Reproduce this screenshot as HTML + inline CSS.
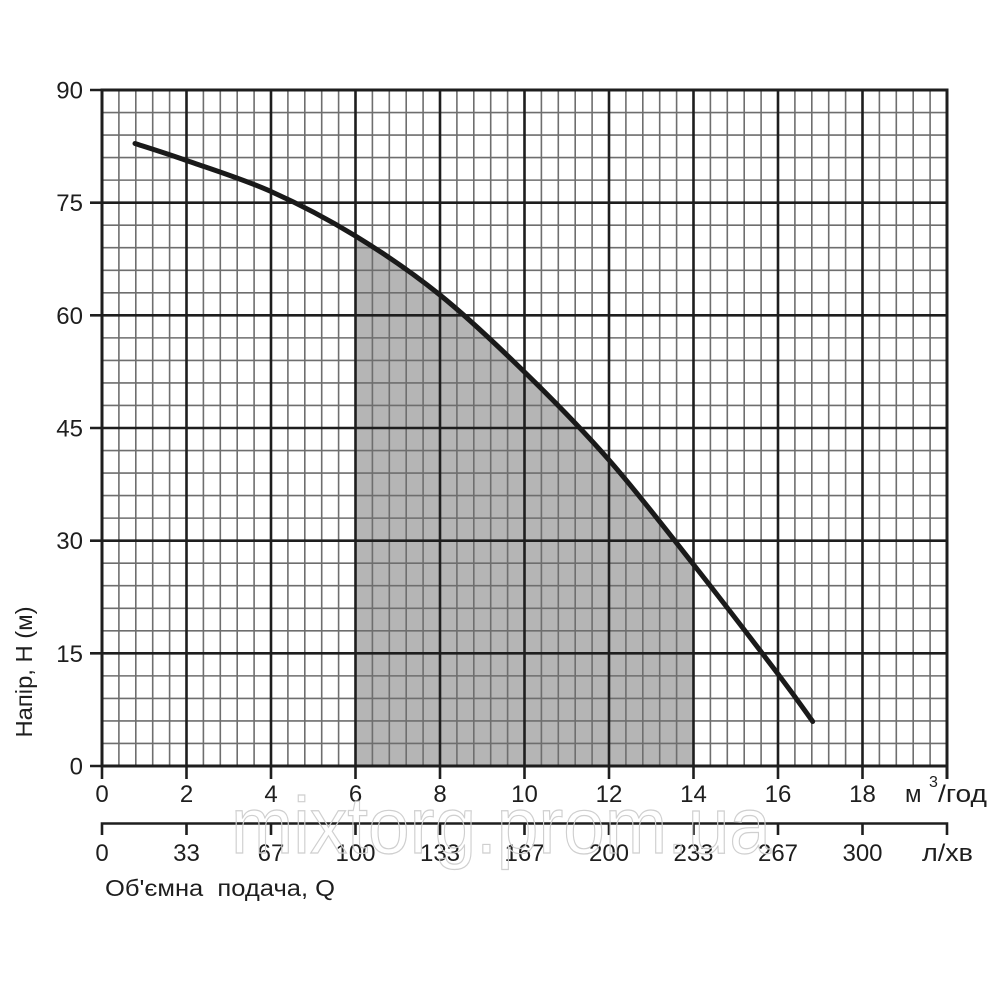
<!DOCTYPE html>
<html>
<head>
<meta charset="utf-8">
<style>
  html,body{margin:0;padding:0;background:#fff;}
  svg{display:block;}
  text{font-family:"Liberation Sans","DejaVu Sans",sans-serif;fill:#1e1e1e;}
</style>
</head>
<body>
<svg width="1000" height="1000" viewBox="0 0 1000 1000" xmlns="http://www.w3.org/2000/svg">
  <rect x="0" y="0" width="1000" height="1000" fill="#fff"/>

  <!-- shaded operating region -->
  <path d="M356,766 L356,236.3 C383.7,253.25 411.8,272.3 440,295 C468.2,317.7 496.3,344.5 524.5,372 C552.7,399.5 580.8,427.9 609,460 C637.2,492.1 665.3,528.8 693.5,564.5 L693.5,766 Z" fill="#b5b5b5"/>

  <!-- minor grid -->
  <path fill="none" stroke="#6e6e6e" stroke-width="1.6" d="
  M118.9,90V766 M135.8,90V766 M152.7,90V766 M169.6,90V766
  M203.4,90V766 M220.3,90V766 M237.2,90V766 M254.1,90V766
  M287.9,90V766 M304.8,90V766 M321.7,90V766 M338.6,90V766
  M372.4,90V766 M389.3,90V766 M406.2,90V766 M423.1,90V766
  M456.9,90V766 M473.8,90V766 M490.7,90V766 M507.6,90V766
  M541.4,90V766 M558.3,90V766 M575.2,90V766 M592.1,90V766
  M625.9,90V766 M642.8,90V766 M659.7,90V766 M676.6,90V766
  M710.4,90V766 M727.3,90V766 M744.2,90V766 M761.1,90V766
  M794.9,90V766 M811.8,90V766 M828.7,90V766 M845.6,90V766
  M879.4,90V766 M896.3,90V766 M913.2,90V766 M930.1,90V766
  M102,743.47H947 M102,720.93H947 M102,698.4H947 M102,675.87H947
  M102,630.8H947 M102,608.27H947 M102,585.73H947 M102,563.2H947
  M102,518.13H947 M102,495.6H947 M102,473.07H947 M102,450.53H947
  M102,405.47H947 M102,382.93H947 M102,360.4H947 M102,337.87H947
  M102,292.8H947 M102,270.27H947 M102,247.73H947 M102,225.2H947
  M102,180.13H947 M102,157.6H947 M102,135.07H947 M102,112.53H947"/>

  <!-- major grid -->
  <path fill="none" stroke="#1e1e1e" stroke-width="2.6" d="
  M186.5,90V766 M271,90V766 M355.5,90V766 M440,90V766 M524.5,90V766
  M609,90V766 M693.5,90V766 M778,90V766 M862.5,90V766
  M102,653.33H947 M102,540.67H947 M102,428H947 M102,315.33H947 M102,202.67H947"/>

  <!-- border -->
  <path fill="none" stroke="#1e1e1e" stroke-width="3" d="M102,90H947 M102,766H947 M102,88.5V767.5 M947,88.5V779"/>

  <!-- y ticks -->
  <path fill="none" stroke="#1e1e1e" stroke-width="2.6" d="
  M90,90H102 M90,202.67H102 M90,315.33H102 M90,428H102 M90,540.67H102 M90,653.33H102 M90,766H102"/>
  <!-- x ticks (main axis) -->
  <path fill="none" stroke="#1e1e1e" stroke-width="2.6" d="
  M102,766V779 M186.5,766V779 M271,766V779 M355.5,766V779 M440,766V779 M524.5,766V779
  M609,766V779 M693.5,766V779 M778,766V779 M862.5,766V779"/>

  <!-- second axis (l/min) -->
  <path fill="none" stroke="#1e1e1e" stroke-width="2.6" d="
  M100.7,823.5H948.3
  M102,823.5V835 M186.5,823.5V835 M271,823.5V835 M355.5,823.5V835 M440,823.5V835 M524.5,823.5V835
  M609,823.5V835 M693.5,823.5V835 M778,823.5V835 M862.5,823.5V835 M947,823.5V835"/>

  <!-- curve -->
  <path fill="none" stroke="#1a1a1a" stroke-width="5" stroke-linejoin="round" stroke-linecap="round"
    d="M135,143.5 C143.6,146.3 163.8,152.5 186.5,160.5 C209.2,168.5 242.8,178.9 271,191.5 C299.2,204.1 327.3,218.75 355.5,236 C383.7,253.25 411.8,272.3 440,295 C468.2,317.7 496.3,344.5 524.5,372 C552.7,399.5 580.8,427.9 609,460 C637.2,492.1 665.3,528.8 693.5,564.5 C721.7,600.2 758.1,647.8 778,674 C797.9,700.2 806.9,713.6 812.7,721.5"/>

  <!-- y labels -->
  <g font-size="24" text-anchor="end">
    <text x="83" y="98.5">90</text>
    <text x="83" y="211">75</text>
    <text x="83" y="324">60</text>
    <text x="83" y="436.5">45</text>
    <text x="83" y="549">30</text>
    <text x="83" y="662">15</text>
    <text x="83" y="774.5">0</text>
  </g>

  <!-- x labels m3/h -->
  <g font-size="24" text-anchor="middle">
    <text x="102" y="802">0</text>
    <text x="186.5" y="802">2</text>
    <text x="271" y="802">4</text>
    <text x="355.5" y="802">6</text>
    <text x="440" y="802">8</text>
    <text x="524.5" y="802">10</text>
    <text x="609" y="802">12</text>
    <text x="693.5" y="802">14</text>
    <text x="778" y="802">16</text>
    <text x="862.5" y="802">18</text>
  </g>
  <text x="905" y="802" font-size="24">м</text>
  <text x="929" y="787" font-size="16">3</text>
  <text x="938" y="802" font-size="24" textLength="49" lengthAdjust="spacingAndGlyphs">/год</text>

  <!-- x labels l/min -->
  <g font-size="24" text-anchor="middle">
    <text x="102" y="861">0</text>
    <text x="186.5" y="861">33</text>
    <text x="271" y="861">67</text>
    <text x="355.5" y="861">100</text>
    <text x="440" y="861">133</text>
    <text x="524.5" y="861">167</text>
    <text x="609" y="861">200</text>
    <text x="693.5" y="861">233</text>
    <text x="778" y="861">267</text>
    <text x="862.5" y="861">300</text>
  </g>
  <text x="922" y="861" font-size="24" textLength="51" lengthAdjust="spacingAndGlyphs">л/хв</text>

  <!-- axis titles -->
  <text x="105" y="896" font-size="23" textLength="230" lengthAdjust="spacingAndGlyphs" xml:space="preserve">Об'ємна  подача, Q</text>
  <text transform="translate(32,672) rotate(-90)" x="0" y="0" font-size="23" text-anchor="middle" textLength="131" lengthAdjust="spacingAndGlyphs">Напір, Н (м)</text>

  <!-- watermark -->
  <text x="231" y="853" font-size="80" fill="none" style="fill:none" stroke="#cfcfcf" stroke-width="1.2" textLength="540" lengthAdjust="spacingAndGlyphs">mixtorg.prom.ua</text>
</svg>
</body>
</html>
